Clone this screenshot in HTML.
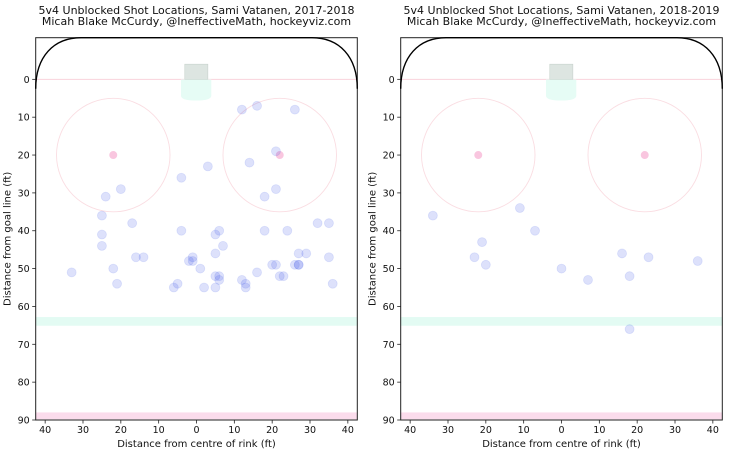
<!DOCTYPE html>
<html><head><meta charset="utf-8">
<style>
html,body{margin:0;padding:0;background:#fff;}
svg{display:block;font-family:"DejaVu Sans","Liberation Sans",sans-serif;}
</style></head>
<body>
<svg id="chart" width="730" height="453" viewBox="0 0 730 453" xmlns="http://www.w3.org/2000/svg"></svg>
<script>
// ---- data ----
const panelTitles = ["5v4 Unblocked Shot Locations, Sami Vatanen, 2017-2018", "5v4 Unblocked Shot Locations, Sami Vatanen, 2018-2019"];
const subtitle = "Micah Blake McCurdy, @IneffectiveMath, hockeyviz.com";
const shotsX2017 = [12,16,26,21,14,3,-4,-20,-24,21,18,-25,-25,-25,-17,-16,-14,-22,-33,-21,-4,5,6,7,5,-1,-2,-1,1,5,6,6,-6,-5,2,5,12,13,13,16,18,24,20,21,22,23,26,27,27,27,29,32,35,35,36];
const shotsY2017 = [8,7,8,19,22,23,26,29,31,29,31,36,41,44,38,47,47,50,51,54,40,41,40,44,46,47,48,48,50,52,52,53,55,54,55,55,53,54,55,51,40,40,49,49,52,52,49,49,49,46,46,38,38,47,54];
const shotsX2018 = [-34,-11,-7,-21,-23,-20,0,7,16,23,18,36,18];
const shotsY2018 = [36,34,40,43,47,49,50,53,46,47,52,48,66];
const xTicks = [-40,-30,-20,-10,0,10,20,30,40];
const yTicks = [0,10,20,30,40,50,60,70,80,90];

const NS = "http://www.w3.org/2000/svg";
const svg = document.getElementById("chart");
function mk(tag, attrs, parent){
  const e = document.createElementNS(NS, tag);
  for (const k in attrs) e.setAttribute(k, attrs[k]);
  (parent||svg).appendChild(e);
  return e;
}
const panels = [
  {left:35.7, right:357.3, xs:shotsX2017, ys:shotsY2017},
  {left:400.7, right:722.3, xs:shotsX2018, ys:shotsY2018}
];
const axTop = 37.7, axBottom = 420;
const xMin=-42.5, xMax=42.5, yMin=-11, yMax=90;

panels.forEach((p, i) => {
  const g = mk("g", {});
  
  
  const sx = v => p.left + (v - xMin) / (xMax - xMin) * (p.right - p.left);
  const sy = v => axTop + (v - yMin) / (yMax - yMin) * (axBottom - axTop);
  const cx = (p.left + p.right) / 2;

  const t1 = mk("text", {x:cx, y:14, "text-anchor":"middle", "font-size":"11", fill:"#111"}, g);
  t1.textContent = panelTitles[i];
  
  
  const t2 = mk("text", {x:cx, y:25, "text-anchor":"middle", "font-size":"11", fill:"#111"}, g);
  t2.textContent = subtitle;
  
  

  const blue = mk("rect", {x:p.left, y:sy(62.8), width:p.right-p.left, height:sy(65.1)-sy(62.8), fill:"#e3fbf3"}, g);
  
  
  const red = mk("rect", {x:p.left, y:sy(88), width:p.right-p.left, height:sy(89.8)-sy(88), fill:"#fbdcec"}, g);
  
  
  const gl = mk("line", {x1:p.left, x2:p.right, y1:sy(0), y2:sy(0), stroke:"#f9d3dc", "stroke-width":1}, g);
  
  

  const crease = mk("path", {d:`M${sx(-4.1)},${sy(0)} L${sx(3.9)},${sy(0)} L${sx(3.9)},${sy(4.3)} Q${sx(3.9)},${sy(5.6)} ${sx(-0.1)},${sy(5.6)} Q${sx(-4.1)},${sy(5.6)} ${sx(-4.1)},${sy(4.3)} Z`, fill:"#e6fcf5"}, g);
  
  
  const goal = mk("rect", {x:sx(-3.1), y:sy(-4), width:sx(3.0)-sx(-3.1), height:sy(0)-sy(-4), fill:"#dde5e1", stroke:"#c8d2cd", "stroke-width":0.6}, g);
  
  

  [-22, 22].forEach((fx) => {
    const c = mk("circle", {cx:sx(fx), cy:sy(20), r:sx(15)-sx(0), fill:"none", stroke:"#fadde2", "stroke-width":0.9}, g);
    
    
    const d = mk("circle", {cx:sx(fx), cy:sy(20), r:4, fill:"#f9c6df"}, g);
    
    
  });

  for (let k = 0; k < p.xs.length; k++) {
    const s = mk("circle", {cx:sx(p.xs[k]), cy:sy(p.ys[k]), r:4.5, fill:"rgba(45,70,230,0.16)", stroke:"rgba(45,70,230,0.12)", "stroke-width":0.8}, g);
    
    
  }

  const frame = mk("rect", {x:p.left, y:axTop, width:p.right-p.left, height:axBottom-axTop, fill:"none", stroke:"#222", "stroke-width":1}, g);
  
  
  const bl = mk("path", {d:`M${p.left},${sy(2.5)} C${p.left},${sy(-6)} ${p.left+18},${axTop} ${sx(-30.5)},${axTop} L${sx(30.5)},${axTop} C${p.right-18},${axTop} ${p.right},${sy(-6)} ${p.right},${sy(2.5)}`, fill:"none", stroke:"#000", "stroke-width":1.4}, g);
  
  

  xTicks.forEach(v => {
    mk("line", {x1:sx(v), x2:sx(v), y1:axBottom, y2:axBottom+3.5, stroke:"#222", "stroke-width":0.8}, g);
    const tl = mk("text", {x:sx(v), y:axBottom+13, "text-anchor":"middle", "font-size":"9.5", fill:"#111"}, g);
    tl.textContent = Math.abs(v);
    
    
  });
  yTicks.forEach(v => {
    mk("line", {x1:p.left-3.5, x2:p.left, y1:sy(v), y2:sy(v), stroke:"#222", "stroke-width":0.8}, g);
    const tl = mk("text", {x:p.left-6, y:sy(v)+3.5, "text-anchor":"end", "font-size":"9.5", fill:"#111"}, g);
    tl.textContent = v;
    
    
  });
  const xl = mk("text", {x:cx, y:axBottom+27, "text-anchor":"middle", "font-size":"10", fill:"#111"}, g);
  xl.textContent = "Distance from centre of rink (ft)";
  
  
  const yx = p.left - 25, yy = (axTop + axBottom) / 2 + 10;
  const yl = mk("text", {x:yx, y:yy, "text-anchor":"middle", "font-size":"10", fill:"#111", transform:`rotate(-90 ${yx} ${yy})`}, g);
  yl.textContent = "Distance from goal line (ft)";
  
  
});
</script>
</body></html>
